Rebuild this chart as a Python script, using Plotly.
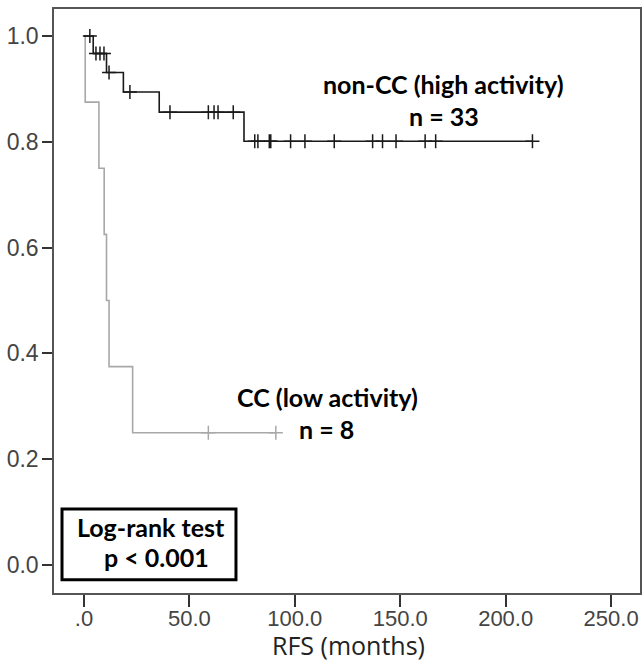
import plotly.graph_objects as go

# ---- data ----
noncc_event_times = [4.4, 10.7, 18.7, 35.7, 75.9]
noncc_surv = [0.967, 0.931, 0.894, 0.856, 0.801]
noncc_censor_times = [2.8, 5.7, 7.6, 9.5, 11.9, 21.8, 40.8, 59.0, 61.7, 63.6, 70.8,
                      81.0, 82.5, 87.9, 88.6, 98.0, 104.8, 118.7, 136.9, 141.6,
                      148.0, 161.8, 166.8, 212.7]

cc_event_times = [0.6, 7.1, 9.6, 10.7, 11.9, 23.1]
cc_surv = [0.875, 0.75, 0.625, 0.5, 0.375, 0.25]
cc_censor_times = [59.0, 91.0]

x_tick_vals = [0, 50, 100, 150, 200, 250]
x_tick_text = [".0", "50.0", "100.0", "150.0", "200.0", "250.0"]
y_tick_vals = [0.0, 0.2, 0.4, 0.6, 0.8, 1.0]
y_tick_text = ["0.0", "0.2", "0.4", "0.6", "0.8", "1.0"]
x_title = "RFS (months)"


def step_curve(event_times, surv, censor_times):
    xs = [0.0] + list(event_times)
    ys = [1.0] + list(surv)
    end = max(censor_times + list(event_times))
    xs.append(end)
    ys.append(ys[-1])
    return xs, ys


def surv_at(t, event_times, surv):
    s = 1.0
    for et, sv in zip(event_times, surv):
        if et <= t:
            s = sv
    return s


fig = go.Figure()

for ev, sv, cens, color in [
    (cc_event_times, cc_surv, cc_censor_times, "#a8a8a8"),
    (noncc_event_times, noncc_surv, noncc_censor_times, "#1a1a1a"),
]:
    xs, ys = step_curve(ev, sv, cens)
    fig.add_trace(go.Scatter(x=xs, y=ys, mode="lines", line=dict(color=color, width=1.6, shape="hv"),
                             showlegend=False, hoverinfo="skip"))
    fig.add_trace(go.Scatter(x=cens, y=[surv_at(t, ev, sv) for t in cens], mode="markers",
                             marker=dict(symbol="cross-thin", size=10, line=dict(color=color, width=1.5)),
                             showlegend=False, hoverinfo="skip"))

lab_font = dict(family="Lato, Open Sans, sans-serif", size=25, color="black")
fig.add_annotation(x=170.3, y=0.909, text="<b>non-CC (high activity)</b>", showarrow=False, font=lab_font)
fig.add_annotation(x=170.8, y=0.849, text="<b>n = 33</b>", showarrow=False, font=lab_font)
fig.add_annotation(x=115.3, y=0.318, text="<b>CC (low activity)</b>", showarrow=False, font=lab_font)
fig.add_annotation(x=114.8, y=0.257, text="<b>n = 8</b>", showarrow=False, font=lab_font)

fig.add_shape(type="rect", x0=-10.4, x1=72.1, y0=-0.028, y1=0.106, xref="x", yref="y",
              line=dict(color="black", width=3), fillcolor="white", layer="above")
fig.add_annotation(x=31.8, y=0.072, text="<b>Log-rank test</b>", showarrow=False, font=lab_font)
fig.add_annotation(x=34.6, y=0.015, text="<b>p < 0.001</b>", showarrow=False, font=lab_font)

# x-axis title placed as paper annotation below the plot
fig.add_annotation(x=0.503, y=-0.089, xref="paper", yref="paper", text=x_title, showarrow=False,
                   yanchor="middle", font=dict(family="Open Sans, sans-serif", size=25, color="#222222"))

axis_common = dict(showline=True, mirror=True, linecolor="#555555", linewidth=1.5,
                   showgrid=False, zeroline=False, ticks="outside", tickcolor="#333333",
                   tickwidth=1.5, automargin=False)

fig.update_xaxes(range=[-14.2, 263.7], tickmode="array", tickvals=x_tick_vals, ticktext=x_tick_text,
                 ticklen=12, ticklabelstandoff=-7,
                 tickfont=dict(family="Liberation Sans, Arial, sans-serif", size=22, color="#444444"),
                 **axis_common)
fig.update_yaxes(range=[-0.053, 1.051], tickmode="array", tickvals=y_tick_vals, ticktext=y_tick_text,
                 ticklen=10, ticklabelstandoff=-1,
                 tickfont=dict(family="Liberation Sans, Arial, sans-serif", size=23, color="#444444"),
                 **axis_common)

fig.update_layout(width=642, height=663, plot_bgcolor="white", paper_bgcolor="white",
                  margin=dict(l=54, r=2, t=9, b=70))

# remove the default page margin so the figure fills the window exactly
fig.write_html("out.html", config={"displayModeBar": False},
               post_script="document.body.style.margin='0';document.body.style.overflow='hidden';")
